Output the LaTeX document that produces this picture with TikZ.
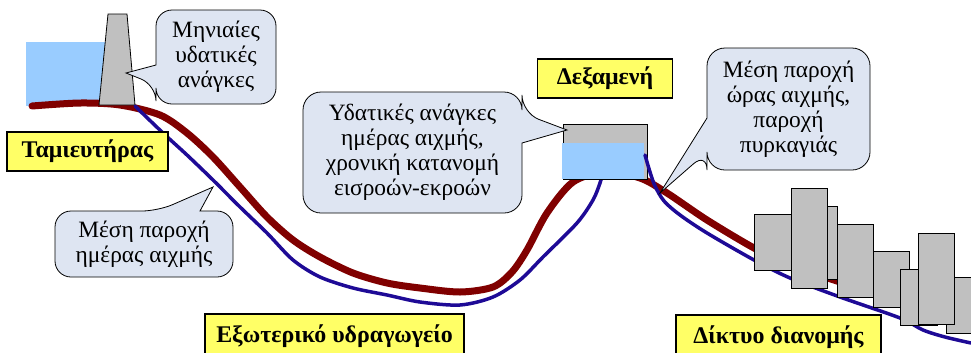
\documentclass[tikz,border=0pt]{standalone}
\usepackage{fontspec}
\setmainfont{Liberation Serif}
\usepackage{tikz}
\usetikzlibrary{positioning}
\usetikzlibrary{calc}
\definecolor{bubblefill}{RGB}{222,229,242}
\definecolor{tagyellow}{RGB}{255,255,102}
\definecolor{waterblue}{RGB}{153,204,255}
\definecolor{pipered}{RGB}{128,0,0}
\definecolor{pipeblue}{RGB}{30,10,150}
\definecolor{concrete}{RGB}{192,192,192}
\tikzset{bubble/.style={draw, fill=bubblefill, line width=0.8bp}}
\tikzset{bubbletext/.style={align=center, inner sep=0pt, font=\fontsize{23.5}{25}\selectfont}}
\tikzset{tag/.style={draw, fill=tagyellow, line width=1.2bp, inner sep=0pt, minimum height=39bp, font=\fontsize{24}{26}\selectfont\bfseries}}
\tikzset{house/.style={draw, fill=concrete, line width=0.8bp}}
\tikzset{redpipe/.style={pipered, line width=7bp, line cap=round}}
\tikzset{bluepipe/.style={pipeblue, line width=3.5bp, line cap=round}}

\begin{document}
\begin{tikzpicture}[x=1bp, y=-1bp]
\useasboundingbox (0,0) rectangle (971,352);
% reservoir and dam
\fill[waterblue] (26,42) rectangle (108,106);
\draw[redpipe] plot[smooth, tension=0.5] coordinates {(32,106) (80,103) (120,105) (160,115) (187,133) (213,157) (240,187) (267,217) (293,240) (320,257) (353,273) (387,283) (420,288) (460,292) (493,287) (512,272) (527,250) (547,213) (573,182) (605,172) (640,178) (667,193) (707,220) (754,248) (790,265) (840,282) (860,288)};
\draw[house] (99,105) -- (108,14) -- (127,14) -- (135,105) -- cycle;
\draw[bluepipe] plot[smooth, tension=0.5] coordinates {(135,106) (163,133) (187,155) (213,180) (240,207) (267,233) (293,260) (320,277) (353,288) (387,295) (420,302) (460,305) (493,297) (520,280) (543,257) (577,223) (593,200) (600,183) (603,172)};
%
% storage tank
\node[house, inner sep=0pt, minimum width=84bp, minimum height=55bp] (tank) at (605,151.5) {};
\fill[waterblue] ([xshift=-1bp]tank.south west) rectangle ([xshift=-3bp,yshift=-19bp]tank.north east);
\node[tag, minimum width=135bp, above=25bp of tank] (dex) {Δεξαμενή};
\draw[bluepipe] plot[smooth, tension=0.5] coordinates {(645,155) (650,172) (655,186) (664,201) (680,215) (707,233) (754,260) (790,278) (840,297) (900,318) (923,330) (945,337) (971,343)};
%
% buildings
\draw[house] (754,214) rectangle (791,270);
\draw[house] (820,206) rectangle (837,279);
\draw[house] (791,188) rectangle (827,288);
\draw[house] (837,224) rectangle (873,297);
\draw[house] (873,251) rectangle (909,307);
\draw[house] (900,269) rectangle (937,325);
\draw[house] (946,277) rectangle (990,333);
\draw[house] (918,233) rectangle (954,324);
%
% callouts
\coordinate (tipdam) at (126,73);
\coordinate (tiptank) at (567,130);
\coordinate (tipday) at (213,187);
\coordinate (tiphour) at (660,193);
\draw[bubble] (276,50) [rounded corners=16bp] -- (276,104) -- (156,104) -- (156,85) [sharp corners] -- (tipdam) -- (156,65) [rounded corners=16bp] -- (156,10) -- (276,10) -- cycle;
\node[bubbletext] (month) at (216,57) {Μηνιαίες\\υδατικές\\ανάγκες};
\draw[bubble] (303,150) [rounded corners=18bp] -- (303,92) -- (522,92) -- (522,113) [sharp corners] -- (tiptank) -- (522,143) [rounded corners=18bp] -- (522,213) -- (303,213) -- cycle;
\node[bubbletext] (daily) at (412.5,152.5) {Υδατικές ανάγκες\\ημέρας αιχμής,\\χρονική κατανομή\\εισροών-εκροών};
\draw[bubble] (55,245) [rounded corners=16bp] -- (55,211) -- (158,211) [sharp corners] -- (tipday) -- (200,211) [rounded corners=16bp] -- (233,211) -- (233,277) -- (55,277) -- cycle;
\node[bubbletext] (meanday) at (144,244) {Μέση παροχή\\ημέρας αιχμής};
\draw[bubble] (870,100) [rounded corners=18bp] -- (870,170) -- (707,170) -- (707,152) [sharp corners] -- (tiphour) -- (707,118) [rounded corners=18bp] -- (707,48) -- (870,48) -- cycle;
\node[bubbletext] (meanhour) at (788.5,109) {Μέση παροχή\\ώρας αιχμής,\\παροχή\\πυρκαγιάς};
%
% labels
\node[tag, minimum width=161bp] (res) at (87.5,151.5) {Ταμιευτήρας};
\node[tag, minimum width=259bp, minimum height=44bp] (aqu) at (334.5,336) {Εξωτερικό υδραγωγείο};
\node[tag, minimum width=205bp, minimum height=44bp] (net) at (778.5,337) {Δίκτυο διανομής};
\end{tikzpicture}
\end{document}
